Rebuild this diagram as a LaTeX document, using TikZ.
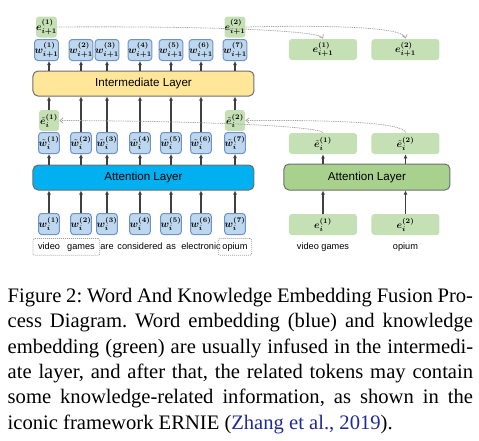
\documentclass[tikz,border=0pt]{standalone}
\usepackage{amsmath}
\usepackage{bm}
\usepackage{graphicx}
\usepackage{fontspec}
\setmainfont{Liberation Serif}
\newfontfamily\arialfont{Liberation Sans}
\usetikzlibrary{arrows.meta,fit}
\definecolor{tokblue}{HTML}{BDD7EE}
\definecolor{tokedge}{HTML}{6F93C6}
\definecolor{kgreen}{HTML}{C5E0B4}
\definecolor{interyellow}{HTML}{FFE699}
\definecolor{attcyan}{HTML}{00B0F0}
\definecolor{attgreen}{HTML}{A9D18E}
\definecolor{layeredge}{HTML}{6E6E6E}
\definecolor{citeblue}{HTML}{1F2A96}
\newcommand{\emb}[1]{\scalebox{0.5}{$\bm{#1}$}}
\tikzset{%
  >={Latex[width=2pt,length=2pt]},
          base/.style = {rectangle, rounded corners=1.5pt, inner sep=0pt,
                         text centered, minimum height=10.5pt},
  wbox/.style  = {base, draw=tokedge, line width=0.5pt, fill=tokblue,
                  minimum width=10pt},
  ebox/.style  = {base, fill=kgreen, minimum width=10pt},
  kbox/.style  = {base, fill=kgreen, minimum width=34pt},
  layer/.style = {base, rounded corners=2.5pt, draw=layeredge, line width=0.5pt,
                  minimum height=12.5pt, font=\arialfont\fontsize{5.8}{6}\selectfont},
  word/.style  = {inner xsep=0.3pt, inner ysep=0pt, anchor=base, text height=3.8pt,
                  text depth=1.2pt, font=\arialfont\fontsize{4.6}{5}\selectfont},
  wordbox/.style = {draw=gray!75, dash pattern=on 0.5pt off 0.5pt, rounded corners=1pt,
                    inner xsep=2pt, inner ysep=1.5pt},
  link/.style  = {->, line width=0.6pt, draw=black!75},
  feed/.style  = {-{Straight Barb[length=1.5pt,width=2.5pt]}, draw=gray!70,
                  line width=0.4pt, dash pattern=on 0.5pt off 0.4pt},
}

\begin{document}
\begin{tikzpicture}[x=0.5pt, y=-0.5pt]
  \useasboundingbox (0,0) rectangle (479,441);

  % word side: token columns
  \foreach \n/\x/\xt/\t in {1/49/46.5/video, 2/81/81/games, 3/107/107/are,
      4/140/140/considered, 5/171/171/as, 6/201/201/electronic, 7/235/235/opium} {
    \node (wi\n) [wbox] at (\x,224)  {\emb{w_i^{(\n)}}};
    \node (wt\n) [wbox] at (\x,143)  {\emb{\tilde{w}_i^{(\n)}}};
    \node (wn\n) [wbox] at (\xt,50)  {\emb{w_{i+1}^{(\n)}}};
    \node (tw\n) [word] at (\x,249.5) {\t};
  }
  \node (att)   [layer, fill=attcyan, minimum width=110.5pt]     at (143.5,177.5) {Attention Layer};
  \node (inter) [layer, fill=interyellow, minimum width=110.5pt] at (143.5,83.5)  {Intermediate Layer};

  \node (et1) [ebox] at (49,120.5)  {\emb{\tilde{e}_i^{(1)}}};
  \node (et2) [ebox] at (235,120.5) {\emb{\tilde{e}_i^{(2)}}};
  \node (en1) [ebox] at (46.5,27)   {\emb{e_{i+1}^{(1)}}};
  \node (en2) [ebox] at (235,27)    {\emb{e_{i+1}^{(2)}}};

  \node (ent1) [wordbox, fit=(tw1)(tw2)] {};
  \node (ent2) [wordbox, fit=(tw7), inner xsep=1.6pt] {};

  % knowledge side
  \node (ratt) [layer, fill=attgreen, minimum width=83pt, minimum height=13pt] at (367,177) {Attention Layer};
  \node (rb1) [kbox] at (323,224.5)   {\emb{e_i^{(1)}}};
  \node (rb2) [kbox] at (405.5,224.5) {\emb{e_i^{(2)}}};
  \node (rt1) [kbox] at (323,143.5)   {\emb{\tilde{e}_i^{(1)}}};
  \node (rt2) [kbox] at (405.5,143.5) {\emb{\tilde{e}_i^{(2)}}};
  \node (rn1) [kbox] at (323,49.5)    {\emb{e_{i+1}^{(1)}}};
  \node (rn2) [kbox] at (405.5,49.5)  {\emb{e_{i+1}^{(2)}}};
  \node (rw1) [word] at (323,249.5)   {video games};
  \node (rw2) [word] at (405.5,249.5) {opium};

  \foreach \n in {1,...,7} {
    \draw[link] (wi\n.north) -- (att.south -| wi\n);
    \draw[link] (att.north -| wt\n) -- (wt\n.south);
    \draw[link] (inter.north -| wi\n) -- (wn\n.south -| wi\n);
  }
  \foreach \n in {2,...,6}
    \draw[link] (wt\n.north) -- (inter.south -| wt\n);
  \draw[link] (et1.north) -- (inter.south -| et1);
  \draw[link] (et2.north) -- (inter.south -| et2);

  \foreach \n in {1,2} {
    \draw[link] (rb\n.north) -- (ratt.south -| rb\n);
    \draw[link] (ratt.north -| rt\n) -- (rt\n.south);
  }

  % knowledge fed in and out
  \draw[feed] (rt1.north) .. controls (318,126) and (200,121) .. (et1.east);
  \draw[feed] (rt2.north) .. controls (403,122) and (330,120) .. (et2.east);
  \draw[feed] (en1.east) .. controls (200,26) and (318,30) .. (rn1.north);
  \draw[feed] (en2.east) .. controls (330,25) and (403,27) .. (rn2.north);

  \node (caption) [anchor=north west, inner sep=0pt, text width=232.7pt, align=justify,
                   font=\fontsize{10.3}{12.65}\selectfont] at (7.3,288)
    {\tolerance=9999\frenchspacing Figure 2: Word And Knowledge Embedding Fusion Pro-\linebreak
     cess Diagram. Word embedding (blue) and knowledge\linebreak
     embedding (green) are usually infused in the intermedi-\linebreak
     ate layer, and after that, the related tokens may contain\linebreak
     some knowledge-related information, as shown in the\linebreak
     iconic framework ERNIE (\textcolor{citeblue}{Zhang et al., 2019}).};
\end{tikzpicture}
\end{document}
